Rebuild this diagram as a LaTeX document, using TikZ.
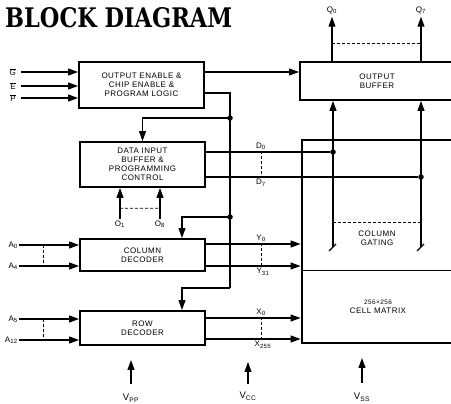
\documentclass[tikz,border=0pt]{standalone}
\usepackage{fontspec}
\usepackage{graphicx}
\setmainfont{Liberation Sans}[LetterSpace=6]
\newfontfamily\titlefont{DejaVu Serif}
\usetikzlibrary{arrows.meta,positioning}
\tikzset{
  blk/.style ={rectangle, draw=black, line width=1.9pt, minimum width=125pt,
               align=center, inner sep=0pt, font=\fontsize{8}{9}\selectfont},
  matx/.style={rectangle, draw=black, line width=2.8pt, inner sep=0pt},
  lbl/.style ={inner sep=1pt, align=center, font=\fontsize{8}{9}\selectfont},
  pwr/.style ={inner sep=1pt, font=\fontsize{9.5}{10}\selectfont},
  ln/.style  ={line width=1.1pt, draw=black},
  ar/.style  ={ln, -{Triangle[length=10pt,width=7pt]}},
  bus/.style ={line width=0.7pt, dash pattern=on 3pt off 2pt},
  jn/.style  ={circle, fill=black, inner sep=0pt, minimum size=5.5pt},
}
\begin{document}
\begin{tikzpicture}[x=1pt,y=-1pt]
\useasboundingbox (0,0) rectangle (451,404);
\clip (0,0) rectangle (451,404);

\node[anchor=west, inner sep=0pt] (title) at (5,18)
  {\resizebox{227pt}{20pt}{\titlefont\bfseries BLOCK DIAGRAM}};

% blocks
\node[blk, minimum height=46pt] (oe) at (141.5,85) {OUTPUT ENABLE \&\\CHIP ENABLE \&\\PROGRAM LOGIC};
\node[blk, minimum height=45pt] (dib) at (142.5,164.5) {DATA INPUT\\BUFFER \&\\PROGRAMMING\\CONTROL};
\node[blk, minimum height=32pt] (cdec) at (142.5,255) {COLUMN\\DECODER};
\node[blk, minimum height=34pt] (rdec) at (142.5,328) {ROW\\DECODER};
\node[blk, minimum width=154pt, minimum height=38pt] (obuf) at (377,81) {OUTPUT\\BUFFER};
\node[matx, minimum width=152pt, minimum height=203pt] (cm) at (378,241.5) {};
\node[lbl] (cmtxt) at (378,307) {{\fontsize{6.5}{7}\selectfont 256×256}\\CELL MATRIX};
\node[lbl] (cg) at (377,238) {COLUMN\\GATING};

% control inputs
\node[lbl, anchor=east] (gin) at (17,72) {$\overline{\mbox{G}}$};
\node[lbl, anchor=east] (ein) at (17,86) {$\overline{\mbox{E}}$};
\node[lbl, anchor=east] (pin) at (17,98) {$\overline{\mbox{P}}$};
\draw[ar] ([xshift=4pt]gin.east) -- (gin -| oe.west);
\draw[ar] ([xshift=4pt]ein.east) -- (ein -| oe.west);
\draw[ar] ([xshift=4pt]pin.east) -- (pin -| oe.west);
\draw[ar] ([yshift=13pt]oe.east) -- ([yshift=13pt]oe.east -| obuf.west);

% control bus
\coordinate (bt) at (230,93);
\coordinate (jd) at (230,118);
\coordinate (jc) at (230,217);
\coordinate (jr) at (230,288);
\draw[ln] ([yshift=-8pt]oe.east) -- (bt) -- (jr);
\draw[ar] (jd) -| (dib.north);
\draw[ar] (jc) -| ([xshift=39.5pt]cdec.north);
\draw[ar] (jr) -| ([xshift=39.5pt]rdec.north);
\node[jn] at (jd) {};
\node[jn] at (jc) {};

% outputs
\node[lbl] (q0) at (332,10) {Q\textsubscript{0}};
\node[lbl] (q7) at (421,10) {Q\textsubscript{7}};
\draw[ar, shorten >=2pt] (obuf.north -| q0) -- (q0.south);
\draw[ar, shorten >=2pt] (obuf.north -| q7) -- (q7.south);
\coordinate (qb) at (332,43);
\draw[bus] (qb) -- (qb -| q7);

% data lines and column gating
\node[jn] (d0j) at (333,152) {};
\node[jn] (d7j) at (421,177) {};
\draw[ln] (dib.east |- d0j) -- (d0j);
\draw[ln] (dib.east |- d7j) -- (d7j);
\node[lbl, anchor=south] (d0) at (261,151) {D\textsubscript{0}};
\node[lbl, anchor=north] (d7) at (261,178) {D\textsubscript{7}};
\draw[bus] (d0.south) -- (d7.north);
\coordinate (c0) at (333,247);
\coordinate (c7) at (421,247);
\draw[ar] (c0) -- (c0 |- obuf.south);
\draw[ar] (c7) -- (c7 |- obuf.south);
\draw[ln] ([shift={(-4,4)}]c0) -- ([shift={(3,-3)}]c0);
\draw[ln] ([shift={(-4,4)}]c7) -- ([shift={(3,-3)}]c7);
\coordinate (g0) at (333,222);
\draw[bus] (g0) -- (g0 -| c7);
\coordinate (sep) at (302,270);
\draw[line width=0.9pt] (sep) -- (sep -| cm.east);

% data inputs
\node[lbl] (o1) at (120,224) {O\textsubscript{1}};
\node[lbl] (o8) at (160,224) {O\textsubscript{8}};
\draw[ar] (o1.north) -- (o1 |- dib.south);
\draw[ar] (o8.north) -- (o8 |- dib.south);
\draw[bus] ([yshift=11pt]o1.north) -- ([yshift=11pt]o8.north);

% column address
\node[lbl, anchor=east] (a0) at (19,245) {A\textsubscript{0}};
\node[lbl, anchor=east] (a4) at (19,266) {A\textsubscript{4}};
\draw[ar] (a0.east) -- (a0 -| cdec.west);
\draw[ar] (a4.east) -- (a4 -| cdec.west);
\draw[bus] ([xshift=24pt]a0.east) -- ([xshift=24pt]a4.east);
\draw[ar] ([yshift=11pt]cdec.east) -- ([yshift=11pt]cdec.east -| cm.west);
\draw[ar] ([yshift=-11pt]cdec.east) -- ([yshift=-11pt]cdec.east -| cm.west);
\node[lbl, anchor=south] (y0) at (261,243) {Y\textsubscript{0}};
\node[lbl, anchor=north] (y31) at (263,267) {Y\textsubscript{31}};
\draw[bus] (y0.south) -- (y31.north -| y0.south);

% row address
\node[lbl, anchor=east] (a5) at (19,319) {A\textsubscript{5}};
\node[lbl, anchor=east] (a12) at (19,340) {A\textsubscript{12}};
\draw[ar] (a5.east) -- (a5 -| rdec.west);
\draw[ar] (a12.east) -- (a12 -| rdec.west);
\draw[bus] ([xshift=24pt]a5.east) -- ([xshift=24pt]a12.east);
\draw[ar] ([yshift=10pt]rdec.east) -- ([yshift=10pt]rdec.east -| cm.west);
\draw[ar] ([yshift=-11pt]rdec.east) -- ([yshift=-11pt]rdec.east -| cm.west);
\node[lbl, anchor=south] (x0) at (261,317) {X\textsubscript{0}};
\node[lbl, anchor=north] (x255) at (263,340) {X\textsubscript{255}};
\draw[bus] (x0.south) -- (x255.north -| x0.south);

% supplies
\node[pwr] (vpp) at (131,398) {V\textsubscript{PP}};
\node[pwr] (vcc) at (248,396) {V\textsubscript{CC}};
\node[pwr] (vss) at (362,397) {V\textsubscript{SS}};
\coordinate (vppt) at (131,360);
\coordinate (vcct) at (248,362);
\coordinate (vsst) at (362,358);
\draw[ar, shorten <=9pt] (vpp.north) -- (vppt);
\draw[ar, shorten <=7pt] (vcc.north) -- (vcct);
\draw[ar, shorten <=9pt] (vss.north) -- (vsst);
\end{tikzpicture}
\end{document}
